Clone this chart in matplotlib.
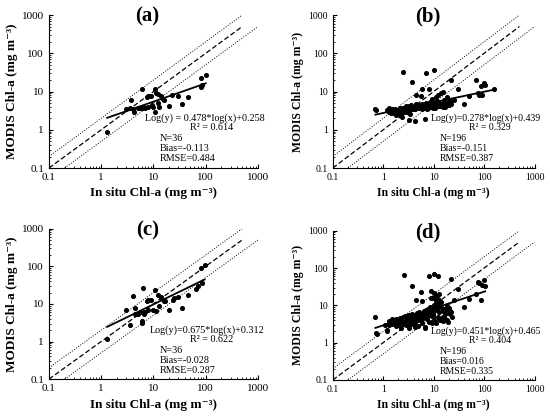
import numpy as np
import matplotlib
matplotlib.use("Agg")
import matplotlib.pyplot as plt
from matplotlib.ticker import LogLocator, NullFormatter, FixedLocator, FixedFormatter

# ---------------- data ----------------
xa = [1.3,3.5,3.8,4,4.3,5.5,6,6,6.5,7.5,8,9,9.5,10,10.5,10.5,12,13,14,16,20,23,30,35,45,80,80,85,100,3,5,7,11,15,12,8]
ya = [0.9,3.7,6,3.5,3,3.8,12,3.7,4,7,7.5,7.5,4.5,4,12,3,8.5,4,7.5,6,4.3,8,7.5,4.7,7,13.5,23,15,27,3.5,3.8,3.8,9,6.5,5,4]

xc = [1.3,3,3.5,4,4.5,5,5.5,6,6,6.3,6.5,7,7.5,8,9,10,10.5,11,12,13,14,16,20,24,30,35,45,65,70,80,85,95,4.5,8,17,25]
yc = [1.2,7,2.8,16,8,5.5,6,3.2,3.6,27,5.5,6,12,13,13,7,23,6.5,17,9,15,12,7,13,15,8,17,25,30,90,35,105,5.5,7,12,14]

xb = [0.7,0.72,1.2,1.3,1.4,1.5,1.6,1.7,1.8,2.0,2.1,2.2,2.3,2.4,2.5,2.6,2.7,2.8,3.0,3.1,3.2,3.3,3.5,3.6,3.8,4.0,4.2,4.4,4.6,4.8,5.0,5.2,5.5,5.8,6.0,6.2,6.5,6.8,7.0,7.2,7.5,7.8,8.0,8.3,8.6,9.0,9.3,9.6,10,10.5,11,11.5,12,13,14,15,16,17,18,19,20,22,
      1.3,1.5,1.9,2.2,2.6,2.9,3.3,3.7,4.1,4.5,5.0,5.4,5.9,6.3,6.7,7.3,7.9,8.5,9.1,9.8,10.8,12,13.5,15,17,19,
      2.5,3.8,7,8,10,6,5.5,4.5,12,14,15,18,22,25,30,40,50,70,75,80,85,90,100,105,160,3.2,4.3,6.6,9.4,11.2,16,21,2.3,1.8,3.4]
yb = [3.6,3.3,3.2,3.0,2.8,2.7,3.0,3.4,2.9,3.2,2.6,3.5,3.0,2.2,3.8,2.9,3.3,4.2,3.0,3.6,3.9,2.8,3.4,4.4,3.8,4.0,3.6,4.6,3.9,4.2,3.7,4.5,4.0,3.6,4.8,4.2,3.9,4.6,4.3,5.0,4.1,3.7,4.7,4.4,5.2,4.0,4.9,4.4,5.0,3.8,4.6,5.6,4.2,5.0,4.5,3.9,4.8,4.2,4.6,5.3,4.4,4.7,
      3.8,3.4,3.1,3.7,3.4,3.9,4.3,3.6,3.5,4.0,4.4,3.7,4.1,3.7,4.5,3.6,4.4,3.9,4.3,3.7,4.0,4.6,4.2,4.9,4.0,4.5,
      33,18,30,12,36,12,7.5,8,8,9,10,7,20,6,12,4.7,7.5,20,9,8,14,8,17,15,12,1.8,1.7,1.9,6.5,7,6,5.5,2.5,2.4,2.6]

xd = [0.7,0.72,0.75,1.2,1.3,1.4,1.5,1.6,1.7,1.8,2.0,2.1,2.2,2.3,2.4,2.5,2.6,2.7,2.8,3.0,3.1,3.2,3.3,3.5,3.6,3.8,4.0,4.2,4.4,4.6,4.8,5.0,5.2,5.5,5.8,6.0,6.2,6.5,6.8,7.0,7.2,7.5,7.8,8.0,8.3,8.6,9.0,9.3,9.6,10,10.5,11,11.5,12,13,14,15,16,17,18,19,20,22,
      1.3,1.5,1.9,2.2,2.6,2.9,3.3,3.7,4.1,4.5,5.0,5.4,5.9,6.3,6.7,7.3,7.9,8.5,9.1,9.8,10.8,12,13.5,15,17,19,21,23,
      2.6,3.8,8,10,12,10,11,9,6,5.5,4.5,12,14,15,18,22,25,30,40,50,70,75,80,85,90,100,105,9.5,3.2,4.3,6.6,9.4,11.2,16,21,2.3,1.8,3.4,1.1,1.2,13,11,12.5,9]
yd = [5.0,1.8,1.7,2.0,3.8,3.6,3.2,4.0,3.5,4.2,3.6,3.0,4.5,3.9,3.3,4.8,3.6,5.2,3.0,4.6,5.4,3.8,4.3,5.0,3.2,6.0,4.7,5.5,4.0,6.4,5.0,4.5,6.8,5.2,4.2,6.0,5.5,7.0,6.2,5.0,7.4,6.0,8.0,5.4,7.0,9.0,6.5,8.5,6.0,10,7.5,9.0,8.0,10.5,6.5,9.0,7.0,8.0,6.0,9.5,7.0,8.5,6.5,
      3.0,4.4,3.4,2.8,3.2,4.0,2.7,3.5,3.1,3.8,2.8,4.0,3.3,4.9,2.6,4.2,3.6,5.5,3.4,4.8,3.7,5.0,4.0,3.8,4.4,3.5,6.0,5.0,
      65,34,60,70,60,22,18,25,13,23,14,15,12,5,4,50,14,28,9,15,20,43,40,14,35,48,33,16,2.5,2.6,2.4,3.5,3.3,5.0,7.0,2.5,2.8,5.5,3.0,2.2,20,13,12,16]

fits = [(0.478, 0.258), (0.278, 0.439), (0.675, 0.312), (0.451, 0.465)]
labels = ["(a)", "(b)", "(c)", "(d)"]
eqs = ["Log(y) = 0.478*log(x)+0.258", "Log(y)=0.278*log(x)+0.439",
       "Log(y)=0.675*log(x)+0.312", "Log(y)=0.451*log(x)+0.465"]
r2s = ["R² = 0.614", "R² = 0.329", "R² = 0.622", "R² = 0.404"]
stats = [("N=36", "Bias=-0.113", "RMSE=0.484"), ("N=196", "Bias=-0.151", "RMSE=0.387"),
         ("N=36", "Bias=-0.028", "RMSE=0.287"), ("N=196", "Bias=0.016", "RMSE=0.335")]
ticks = [0.1, 1, 10, 100, 1000]
ticklabels = ["0.1", "1", "10", "100", "1000"]

datasets = [(xa, ya), (xb, yb), (xc, yc), (xd, yd)]
positions = [[0.089, 0.598, 0.38, 0.366], [0.605, 0.598, 0.367, 0.366],
             [0.089, 0.093, 0.38, 0.36], [0.605, 0.091, 0.367, 0.357]]
big = [True, False, True, False]

plt.rcParams['font.family'] = ['Liberation Serif', 'DejaVu Serif']
fig = plt.figure(figsize=(5.5, 4.18), dpi=100)

for i in range(4):
    ax = fig.add_axes(positions[i])
    x, y = np.array(datasets[i][0]), np.array(datasets[i][1])
    ax.set_xscale('log'); ax.set_yscale('log')
    ax.set_xlim(0.1, 1000); ax.set_ylim(0.1, 1000)
    ref = np.array([0.1, 500])
    ax.plot(ref, ref, 'k--', lw=0.9, dashes=(4, 2))
    ax.plot(ref, ref * 2, color='k', ls=':', lw=0.7)
    ax.plot(ref * 2, ref, color='k', ls=':', lw=0.7)
    ax.scatter(x, y, s=7, c='k', zorder=3)
    a, b = fits[i]
    fx = np.array([x.min(), x.max()])
    ax.plot(fx, 10 ** (a * np.log10(fx) + b), 'k-', lw=1.3, zorder=4)
    fs = 7.3 if big[i] else 7
    ax.text(1.03, 0.325, eqs[i], transform=ax.transAxes, ha='right', va='center', fontsize=fs)
    ax.text(0.78, 0.265, r2s[i], transform=ax.transAxes, ha='center', va='center', fontsize=fs)
    for k, s in enumerate(stats[i]):
        ax.text(0.53, 0.19 - k * 0.065, s, transform=ax.transAxes, va='center', fontsize=fs)
    ax.xaxis.set_major_locator(FixedLocator(ticks)); ax.xaxis.set_major_formatter(FixedFormatter(ticklabels))
    ax.yaxis.set_major_locator(FixedLocator(ticks)); ax.yaxis.set_major_formatter(FixedFormatter(ticklabels))
    ax.xaxis.set_minor_locator(LogLocator(base=10, subs=np.arange(2, 10)))
    ax.yaxis.set_minor_locator(LogLocator(base=10, subs=np.arange(2, 10)))
    ax.xaxis.set_minor_formatter(NullFormatter()); ax.yaxis.set_minor_formatter(NullFormatter())
    tfs = 8 if big[i] else 7
    ax.tick_params(which='both', direction='in', labelsize=tfs)
    ax.tick_params(which='major', length=3); ax.tick_params(which='minor', length=1.5)
    ax.spines['top'].set_visible(False); ax.spines['right'].set_visible(False)
    lfs = 9.5 if big[i] else 8.5
    ax.set_xlabel("In situ Chl-a (mg m⁻³)", fontsize=lfs, fontweight='bold', labelpad=4)
    ax.set_ylabel("MODIS Chl-a (mg m⁻³)", fontsize=lfs, fontweight='bold', labelpad=3)
    ax.text(0.47, 0.99, labels[i], transform=ax.transAxes, ha='center', va='center',
            fontsize=15, fontweight='bold')

fig.savefig("out.png", dpi=100)
